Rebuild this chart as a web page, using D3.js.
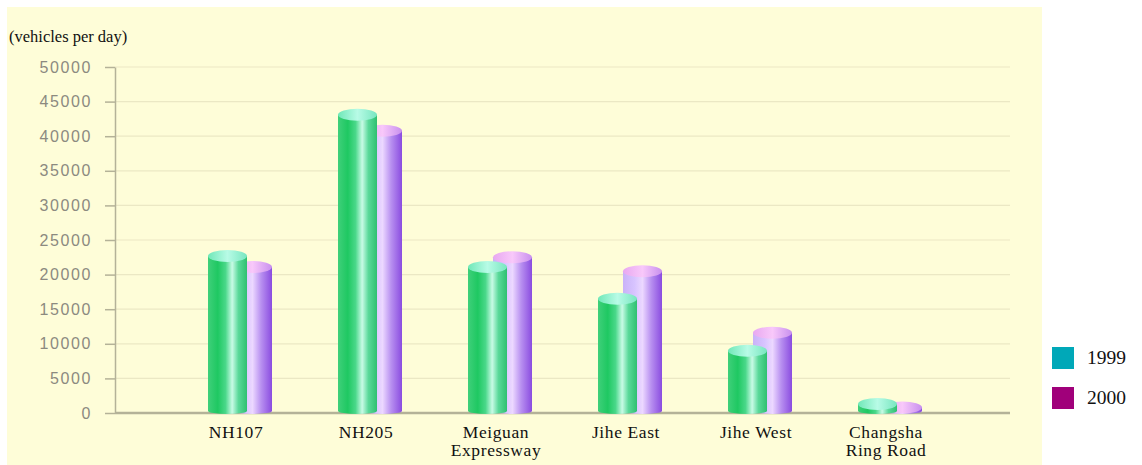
<!DOCTYPE html>
<html>
<head>
<meta charset="utf-8">
<script src="https://cdn.jsdelivr.net/npm/d3@7"></script>
<style>
  html, body { margin: 0; padding: 0; background: #ffffff; }
  svg { display: block; }
</style>
</head>
<body>
<svg id="chart" width="1142" height="465"></svg>
<script>
// Daily traffic volume by road section
const categories = [["NH107"], ["NH205"], ["Meiguan", "Expressway"], ["Jihe East"], ["Jihe West"], ["Changsha", "Ring Road"]];
const series1999 = [22700, 43100, 21100, 16500, 9000, 1300];
const series2000 = [21100, 40800, 22500, 20500, 11600, 800];
const yTicks = [0, 5000, 10000, 15000, 20000, 25000, 30000, 35000, 40000, 45000, 50000];
const legendLabels = ["1999", "2000"];
const legendColors = ["#00a8b8", "#a0007a"];

const svg = d3.select("#chart");
const defs = svg.append("defs");

// background panel
svg.append("rect")
  .attr("x", 7).attr("y", 7).attr("width", 1035).attr("height", 458)
  .attr("fill", "#fefdd8");

const y = d3.scaleLinear().domain([0, 50000]).range([413, 67]);
const x = d3.scaleBand().domain(categories.map((d, i) => i)).range([171, 951]);
const cx = i => x(i) + x.bandwidth() / 2;

// horizontal grid
svg.append("g").selectAll("line").data(yTicks.filter(t => t > 0)).join("line")
  .attr("x1", 115).attr("x2", 1010)
  .attr("y1", d => y(d)).attr("y2", d => y(d))
  .attr("stroke", "#ebe8c4").attr("stroke-width", 1.2);

// y axis
const yAxis = d3.axisLeft(y).tickValues(yTicks).tickFormat(d3.format("d"))
  .tickSize(10).tickSizeOuter(0).tickPadding(13);
const gy = svg.append("g").attr("transform", "translate(115,0)").call(yAxis);
gy.select(".domain").attr("stroke", "#b4b298").attr("stroke-width", 1.5);
gy.selectAll(".tick line").attr("stroke", "#b4b298").attr("stroke-width", 1.5);
gy.selectAll(".tick text")
  .attr("fill", "#8c8a80")
  .style("font-family", "'Liberation Sans', Arial, sans-serif")
  .style("font-size", "16px")
  .style("letter-spacing", "1.6px");

// baseline
svg.append("line")
  .attr("x1", 115).attr("x2", 1010).attr("y1", y(0)).attr("y2", y(0))
  .attr("stroke", "#b4b298").attr("stroke-width", 2.5);

// unit label
svg.append("text")
  .attr("x", 9).attr("y", 42)
  .style("font-family", "'Liberation Serif', 'Times New Roman', serif")
  .style("font-size", "16.5px").attr("fill", "#111")
  .text("(vehicles per day)");

// cylinder gradients
function hGrad(id, stops) {
  const g = defs.append("linearGradient").attr("id", id)
    .attr("x1", "0%").attr("x2", "100%").attr("y1", "0%").attr("y2", "0%");
  stops.forEach(([o, c]) => g.append("stop").attr("offset", o).attr("stop-color", c));
}
hGrad("gBody", [["0%", "#3fd07a"], ["25%", "#1fc862"], ["45%", "#4ad88a"], ["62%", "#c8fbe6"], ["78%", "#5ad99a"], ["100%", "#2fc070"]]);
hGrad("gTop", [["0%", "#70e8b8"], ["50%", "#b8fbe6"], ["100%", "#78e6c0"]]);
hGrad("pBody", [["0%", "#c9b2f8"], ["30%", "#d8c4ff"], ["50%", "#ecd8ff"], ["72%", "#b890f0"], ["100%", "#8a4ce0"]]);
hGrad("pTop", [["0%", "#e8a8f0"], ["50%", "#f8c8fa"], ["100%", "#c890ee"]]);

const barW = 39, ry = 6;
function cylinders(values, offset, body, top) {
  const g = svg.append("g");
  const grp = g.selectAll("g").data(values).join("g");
  grp.append("ellipse")
    .attr("cx", (d, i) => cx(i) + offset + barW / 2).attr("cy", y(0) - 2)
    .attr("rx", barW / 2).attr("ry", 3).attr("fill", `url(#${body})`);
  grp.append("rect")
    .attr("x", (d, i) => cx(i) + offset).attr("width", barW)
    .attr("y", d => y(d)).attr("height", d => y(0) - 2 - y(d))
    .attr("fill", `url(#${body})`);
  grp.append("ellipse")
    .attr("cx", (d, i) => cx(i) + offset + barW / 2).attr("cy", d => y(d))
    .attr("rx", barW / 2).attr("ry", ry).attr("fill", `url(#${top})`);
}
cylinders(series2000, -3, "pBody", "pTop");
cylinders(series1999, -28, "gBody", "gTop");

// category labels
const lab = svg.append("g").selectAll("text").data(categories).join("text")
  .attr("x", (d, i) => cx(i)).attr("y", 438)
  .attr("text-anchor", "middle")
  .style("font-family", "'Liberation Serif', 'Times New Roman', serif")
  .style("font-size", "17.5px").style("letter-spacing", "0.6px").attr("fill", "#111");
lab.selectAll("tspan").data(d => d).join("tspan")
  .attr("x", function () { return this.parentNode.getAttribute("x"); })
  .attr("dy", (d, j) => j === 0 ? 0 : 18)
  .text(d => d);

// legend
const lg = svg.append("g").selectAll("g").data(legendLabels).join("g")
  .attr("transform", (d, i) => `translate(1052,${347 + i * 40})`);
lg.append("rect").attr("width", 22).attr("height", 22).attr("fill", (d, i) => legendColors[i]);
lg.append("text").attr("x", 35).attr("y", 17)
  .style("font-family", "'Liberation Serif', 'Times New Roman', serif")
  .style("font-size", "19.5px").attr("fill", "#111")
  .text(d => d);
</script>
</body>
</html>
